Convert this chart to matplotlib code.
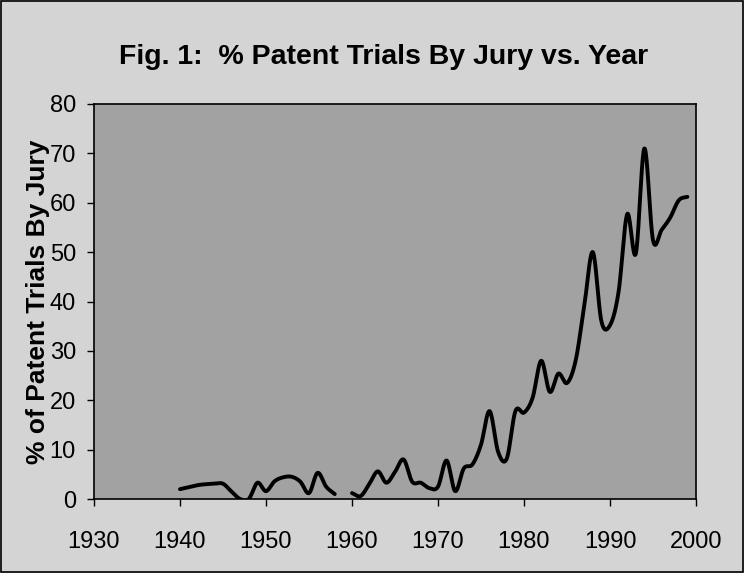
import numpy as np
import matplotlib
matplotlib.use("Agg")
import matplotlib.pyplot as plt
from matplotlib.patches import Rectangle

plt.rcParams['font.family'] = ['Liberation Sans', 'DejaVu Sans']

# ---- data (NaN = no data, line breaks) ----
years = list(range(1940, 2000))
pct_jury = [2.0, 2.4, 2.8, 3.0, 3.1, 3.1, 1.5, 0.0, 0.0, 3.3,
            1.6, 3.6, 4.4, 4.5, 3.5, 1.2, 5.3, 2.5, 1.0, np.nan,
            1.2, 0.6, 3.0, 5.6, 3.3, 5.5, 8.0, 3.5, 3.3, 2.2,
            2.5, 7.8, 1.6, 6.2, 7.0, 11.0, 17.8, 9.5, 8.2, 17.8,
            17.5, 20.5, 28.0, 21.7, 25.4, 23.5, 28.0, 39.0, 50.0, 36.0,
            35.2, 42.0, 57.7, 49.7, 71.0, 52.4, 54.5, 57.0, 60.5, 61.2]
x_ticks = [1930, 1940, 1950, 1960, 1970, 1980, 1990, 2000]
y_ticks = [0, 10, 20, 30, 40, 50, 60, 70, 80]
title = "Fig. 1:  % Patent Trials By Jury vs. Year"
ylabel = "% of Patent Trials By Jury"


def smooth(xs, ys, n=20):
    """Catmull-Rom rendering of a contiguous run of points (like a smoothed line)."""
    xs = np.asarray(xs, float)
    ys = np.asarray(ys, float)
    if len(xs) < 3:
        return xs, ys
    px = np.concatenate([[2 * xs[0] - xs[1]], xs, [2 * xs[-1] - xs[-2]]])
    py = np.concatenate([[2 * ys[0] - ys[1]], ys, [2 * ys[-1] - ys[-2]]])
    ox, oy = [], []
    t = np.linspace(0, 1, n, endpoint=False)
    for i in range(1, len(px) - 2):
        for arr, out in ((px, ox), (py, oy)):
            p0, p1, p2, p3 = arr[i - 1], arr[i], arr[i + 1], arr[i + 2]
            out.extend(0.5 * ((2 * p1) + (-p0 + p2) * t +
                              (2 * p0 - 5 * p1 + 4 * p2 - p3) * t ** 2 +
                              (-p0 + 3 * p1 - 3 * p2 + p3) * t ** 3))
    ox.append(xs[-1])
    oy.append(ys[-1])
    return np.array(ox), np.array(oy)


fig = plt.figure(figsize=(7.44, 5.73), dpi=100)
fig.patch.set_facecolor('#d4d4d4')
fig.patches.append(Rectangle((0.002, 0.002), 0.996, 0.996, transform=fig.transFigure,
                             fill=False, edgecolor='black', linewidth=1.2))

ax = fig.add_axes([0.1263, 0.1291, 0.8092, 0.6894])
ax.set_facecolor('#a2a2a2')

# split into contiguous runs and draw
run_x, run_y = [], []
for yr, v in zip(years + [None], pct_jury + [np.nan]):
    if yr is None or np.isnan(v):
        if run_x:
            sx, sy = smooth(run_x, run_y)
            ax.plot(sx, sy, color='black', linewidth=2.8, solid_capstyle='round')
        run_x, run_y = [], []
    else:
        run_x.append(yr)
        run_y.append(v)

ax.set_xlim(1930, 2000)
ax.set_ylim(0, 80)
ax.set_xticks(x_ticks)
ax.set_yticks(y_ticks)
ax.tick_params(axis='both', direction='out', length=5, width=1.0, colors='black',
               labelsize=17)
ax.tick_params(axis='x', pad=18)
ax.tick_params(axis='y', pad=8)
for s in ax.spines.values():
    s.set_color('black')
    s.set_linewidth(1.2)

ax.set_ylabel(ylabel, fontsize=19, fontweight='bold', labelpad=0)
fig.text(0.516, 0.90, title, ha='center', va='center', fontsize=20.5, fontweight='bold')

fig.savefig('out.png', dpi=100, facecolor=fig.get_facecolor())
